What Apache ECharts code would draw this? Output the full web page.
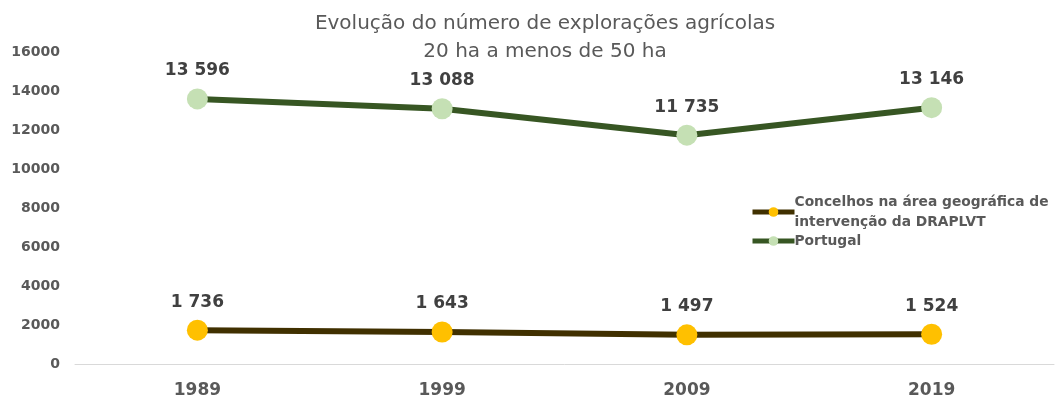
<!DOCTYPE html>
<html>
<head>
<meta charset="utf-8">
<script src="https://cdn.jsdelivr.net/npm/echarts@6/dist/echarts.min.js"></script>
<style>
html, body { margin: 0; padding: 0; background: #fff; }
#main { width: 1055px; height: 403px; }
</style>
</head>
<body>
<div id="main"></div>
<script>
// dados do gráfico
const anos = ['1989', '1999', '2009', '2019'];
const draplvt = [1736, 1643, 1497, 1524];
const portugal = [13596, 13088, 11735, 13146];
const yTicks = [0, 2000, 4000, 6000, 8000, 10000, 12000, 14000, 16000];

const nomeDraplvt = 'Concelhos na área geográfica de intervenção da DRAPLVT';
const nomePortugal = 'Portugal';

const fonte = 'DejaVu Sans, Verdana, sans-serif';
const fmt = v => String(v.value).replace(/\B(?=(\d{3})+(?!\d))/g, ' ');

const legendText = {
  fontFamily: fonte,
  fontSize: 13.8,
  fontWeight: 'bold',
  color: '#595959',
  lineHeight: 20,
};

const myChart = echarts.init(document.getElementById('main'));
myChart.setOption({
  animation: false,
  title: {
    text: 'Evolução do número de explorações agrícolas\n20 ha a menos de 50 ha',
    left: 540,
    top: 5,
    textAlign: 'center',
    textStyle: {
      fontFamily: fonte,
      fontSize: 20,
      fontWeight: 'normal',
      color: '#595959',
      lineHeight: 28,
    },
  },
  grid: {
    left: 75,
    right: 1,
    top: 52,
    bottom: 39,
  },
  legend: {
    orient: 'vertical',
    left: 750,
    top: 182,
    padding: 0,
    itemWidth: 42,
    itemHeight: 12,
    itemGap: -11,
    lineStyle: { width: 5 },
    textStyle: Object.assign({ padding: [0, 0, 0, -5] }, legendText),
    formatter: name => name === nomeDraplvt
      ? 'Concelhos na área geográfica de\nintervenção da DRAPLVT'
      : name,
    data: [
      { name: nomeDraplvt, textStyle: Object.assign({ padding: [20, 0, 0, -5] }, legendText) },
      { name: nomePortugal },
    ],
  },
  xAxis: {
    type: 'category',
    data: anos,
    axisLine: { lineStyle: { color: '#d9d9d9', width: 1 } },
    axisTick: { show: false },
    axisLabel: {
      margin: 18,
      fontFamily: fonte,
      fontSize: 17,
      fontWeight: 'bold',
      color: '#595959',
    },
  },
  yAxis: {
    type: 'value',
    min: yTicks[0],
    max: yTicks[yTicks.length - 1],
    interval: 2000,
    splitLine: { show: false },
    axisLine: { show: false },
    axisTick: { show: false },
    axisLabel: {
      margin: 15,
      formatter: v => String(v),
      fontFamily: fonte,
      fontSize: 14,
      fontWeight: 'bold',
      color: '#595959',
    },
  },
  series: [
    {
      name: nomeDraplvt,
      type: 'line',
      data: draplvt,
      symbol: 'circle',
      symbolSize: 21,
      lineStyle: { color: '#403000', width: 6 },
      itemStyle: { color: '#ffc000' },
      label: {
        show: true,
        position: 'top',
        distance: 9,
        formatter: fmt,
        fontFamily: fonte,
        fontSize: 17,
        fontWeight: 'bold',
        color: '#404040',
      },
    },
    {
      name: nomePortugal,
      type: 'line',
      data: portugal,
      symbol: 'circle',
      symbolSize: 21,
      lineStyle: { color: '#375623', width: 6 },
      itemStyle: { color: '#c5e0b4' },
      label: {
        show: true,
        position: 'top',
        distance: 9,
        formatter: fmt,
        fontFamily: fonte,
        fontSize: 17,
        fontWeight: 'bold',
        color: '#404040',
      },
    },
  ],
});
</script>
</body>
</html>
